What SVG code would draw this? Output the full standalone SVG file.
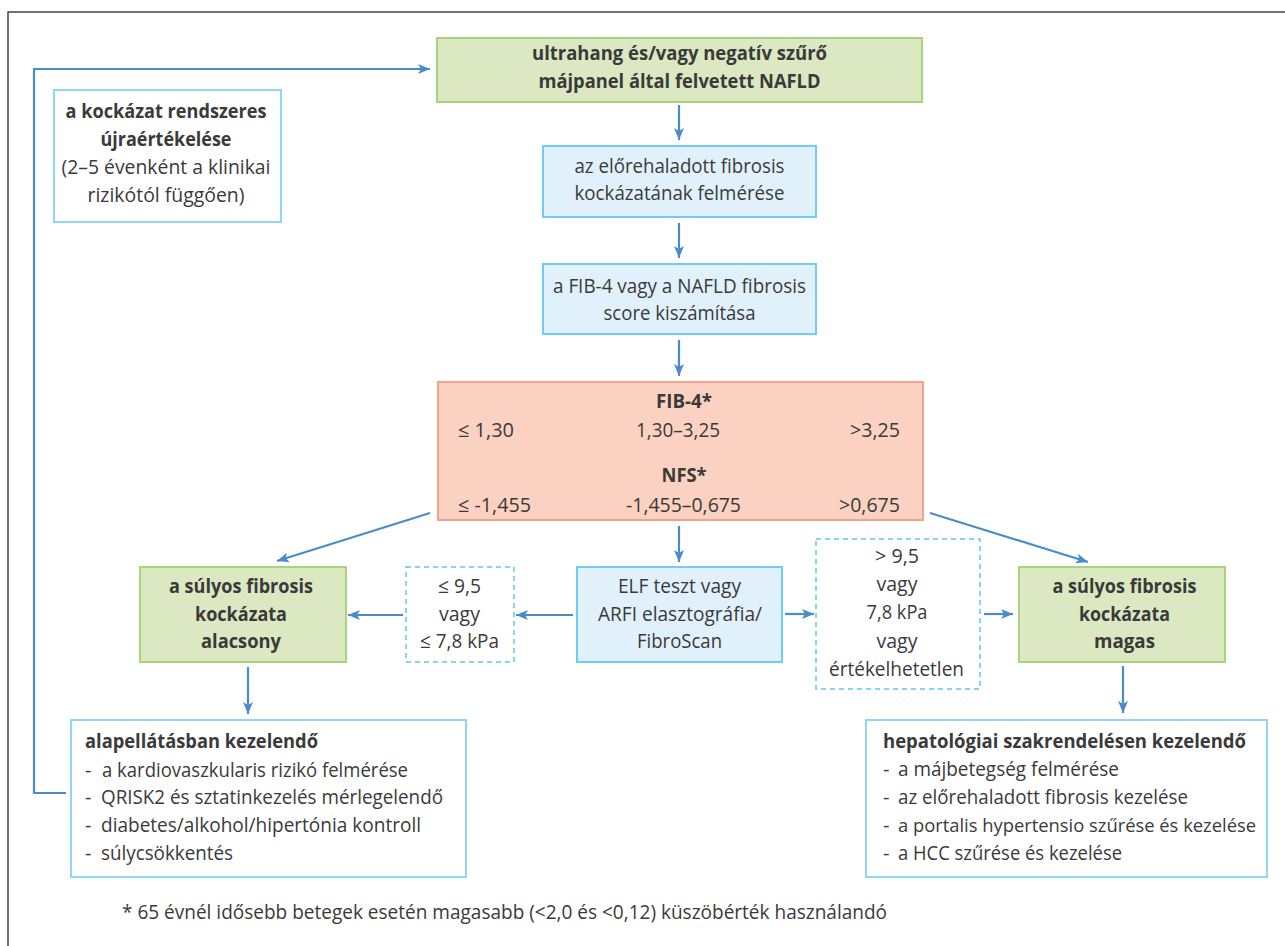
<svg xmlns="http://www.w3.org/2000/svg" width="1285" height="946" viewBox="0 0 1285 946">
<style>
text{font-family:"Open Sans","Noto Sans","Liberation Sans",sans-serif;font-size:20px;fill:#3a3a3a}
.b{font-weight:bold;font-size:19.5px}
.c{text-anchor:middle}
.e{text-anchor:end}
.green{fill:#dbe8c1;stroke:#a9d47e;stroke-width:2}
.blue{fill:#e1f1fb;stroke:#6fcdf3;stroke-width:2}
.white{fill:#ffffff;stroke:#8ed8f5;stroke-width:2}
.red{fill:#fbd1c1;stroke:#f3a38c;stroke-width:2}
.dash{fill:#ffffff;stroke:#5cc6ee;stroke-width:1.5;stroke-dasharray:5,4}
.conn{fill:none;stroke:#4a8bcb;stroke-width:2.2}
</style>
<defs>
<marker id="ah" viewBox="0 0 12 10" refX="12" refY="5" markerWidth="12" markerHeight="10" markerUnits="userSpaceOnUse" orient="auto">
<path d="M0,0 L12,5 L0,10 L3,5 Z" fill="#4a8bcb"/>
</marker>
</defs>
<rect width="1285" height="946" fill="#ffffff"/>
<path d="M8,946 V12 H1285" fill="none" stroke="#444" stroke-width="1.5"/>

<g id="connectors">
<path class="conn" d="M679,105 V140" marker-end="url(#ah)"/>
<path class="conn" d="M679,223 V258" marker-end="url(#ah)"/>
<path class="conn" d="M679,340 V376" marker-end="url(#ah)"/>
<path class="conn" d="M679,526 V562" marker-end="url(#ah)"/>
<path class="conn" d="M430,513 L277,561" marker-end="url(#ah)"/>
<path class="conn" d="M930,513 L1088,562" marker-end="url(#ah)"/>
<path class="conn" d="M573,615 H516" marker-end="url(#ah)"/>
<path class="conn" d="M403,615 H348" marker-end="url(#ah)"/>
<path class="conn" d="M785,614 H814" marker-end="url(#ah)"/>
<path class="conn" d="M984,614 H1013" marker-end="url(#ah)"/>
<path class="conn" d="M248,667 V714" marker-end="url(#ah)"/>
<path class="conn" d="M1123,666 V713" marker-end="url(#ah)"/>
<path class="conn" d="M66,793 H34 V69 H430" marker-end="url(#ah)"/>
</g>

<g id="n-start">
<rect class="green" x="437" y="38" width="485" height="64"/>
<text class="b c" x="679.5" y="60" textLength="295" lengthAdjust="spacingAndGlyphs">ultrahang és/vagy negatív szűrő</text>
<text class="b c" x="679.5" y="88" textLength="282" lengthAdjust="spacingAndGlyphs">májpanel által felvetett NAFLD</text>
</g>

<g id="n-assess">
<rect class="blue" x="543" y="146" width="273" height="71"/>
<text class="c" x="679.5" y="173" textLength="210" lengthAdjust="spacingAndGlyphs">az előrehaladott fibrosis</text>
<text class="c" x="679.5" y="200" textLength="210" lengthAdjust="spacingAndGlyphs">kockázatának felmérése</text>
</g>

<g id="n-calc">
<rect class="blue" x="543" y="264" width="273" height="70"/>
<text class="c" x="679.5" y="293" textLength="253" lengthAdjust="spacingAndGlyphs">a FIB-4 vagy a NAFLD fibrosis</text>
<text class="c" x="679.5" y="320" textLength="152" lengthAdjust="spacingAndGlyphs">score kiszámítása</text>
</g>

<g id="n-scores">
<rect class="red" x="438" y="382" width="485" height="138"/>
<text class="b c" x="684" y="408" textLength="56" lengthAdjust="spacingAndGlyphs">FIB-4*</text>
<text x="458" y="437" textLength="56" lengthAdjust="spacingAndGlyphs">≤ 1,30</text>
<text class="c" x="678" y="437" textLength="84" lengthAdjust="spacingAndGlyphs">1,30–3,25</text>
<text class="e" x="900" y="437" textLength="50" lengthAdjust="spacingAndGlyphs">&gt;3,25</text>
<text class="b c" x="684" y="482" textLength="45" lengthAdjust="spacingAndGlyphs">NFS*</text>
<text x="458" y="512" textLength="73" lengthAdjust="spacingAndGlyphs">≤ -1,455</text>
<text class="c" x="683.5" y="512" textLength="115" lengthAdjust="spacingAndGlyphs">-1,455–0,675</text>
<text class="e" x="900" y="512" textLength="61" lengthAdjust="spacingAndGlyphs">&gt;0,675</text>
</g>

<g id="n-elf">
<rect class="blue" x="577" y="567" width="205" height="95"/>
<text class="c" x="679.5" y="593" textLength="123" lengthAdjust="spacingAndGlyphs">ELF teszt vagy</text>
<text class="c" x="680" y="621" textLength="164" lengthAdjust="spacingAndGlyphs">ARFI elasztográfia/</text>
<text class="c" x="679.5" y="648" textLength="85" lengthAdjust="spacingAndGlyphs">FibroScan</text>
</g>

<g id="n-low-cond">
<rect class="dash" x="406" y="567" width="108" height="95"/>
<text class="c" x="459.5" y="593" textLength="43" lengthAdjust="spacingAndGlyphs">≤ 9,5</text>
<text class="c" x="459.5" y="621" textLength="41" lengthAdjust="spacingAndGlyphs">vagy</text>
<text class="c" x="459.5" y="648" textLength="79" lengthAdjust="spacingAndGlyphs">≤ 7,8 kPa</text>
</g>

<g id="n-high-cond">
<rect class="dash" x="816" y="539" width="164" height="150"/>
<text class="c" x="897" y="563" textLength="44" lengthAdjust="spacingAndGlyphs">&gt; 9,5</text>
<text class="c" x="897" y="591" textLength="41" lengthAdjust="spacingAndGlyphs">vagy</text>
<text class="c" x="897" y="619" textLength="61" lengthAdjust="spacingAndGlyphs">7,8 kPa</text>
<text class="c" x="897" y="648" textLength="41" lengthAdjust="spacingAndGlyphs">vagy</text>
<text class="c" x="896.5" y="676" textLength="135" lengthAdjust="spacingAndGlyphs">értékelhetetlen</text>
</g>

<g id="n-low">
<rect class="green" x="140" y="567" width="206" height="95"/>
<text class="b c" x="241" y="593" textLength="144" lengthAdjust="spacingAndGlyphs">a súlyos fibrosis</text>
<text class="b c" x="241" y="621" textLength="92" lengthAdjust="spacingAndGlyphs">kockázata</text>
<text class="b c" x="241" y="648" textLength="80" lengthAdjust="spacingAndGlyphs">alacsony</text>
</g>

<g id="n-high">
<rect class="green" x="1019" y="567" width="206" height="95"/>
<text class="b c" x="1124.5" y="593" textLength="144" lengthAdjust="spacingAndGlyphs">a súlyos fibrosis</text>
<text class="b c" x="1124.5" y="621" textLength="91" lengthAdjust="spacingAndGlyphs">kockázata</text>
<text class="b c" x="1124.5" y="648" textLength="61" lengthAdjust="spacingAndGlyphs">magas</text>
</g>

<g id="n-reassess">
<rect class="white" x="54" y="90" width="227" height="132"/>
<text class="b c" x="166" y="118" textLength="201" lengthAdjust="spacingAndGlyphs">a kockázat rendszeres</text>
<text class="b c" x="166" y="146" textLength="131" lengthAdjust="spacingAndGlyphs">újraértékelése</text>
<text class="c" x="166" y="174" textLength="209" lengthAdjust="spacingAndGlyphs">(2–5 évenként a klinikai</text>
<text class="c" x="166" y="202" textLength="157" lengthAdjust="spacingAndGlyphs">rizikótól függően)</text>
</g>

<g id="n-primary">
<rect class="white" x="71" y="720" width="395" height="157"/>
<text class="b" x="85" y="748" textLength="233" lengthAdjust="spacingAndGlyphs">alapellátásban kezelendő</text>
<text x="85" y="777">-</text><text x="102" y="777" textLength="306" lengthAdjust="spacingAndGlyphs">a kardiovaszkularis rizikó felmérése</text>
<text x="85" y="804">-</text><text x="101" y="804" textLength="342" lengthAdjust="spacingAndGlyphs">QRISK2 és sztatinkezelés mérlegelendő</text>
<text x="85" y="832">-</text><text x="101" y="832" textLength="320" lengthAdjust="spacingAndGlyphs">diabetes/alkohol/hipertónia kontroll</text>
<text x="85" y="860">-</text><text x="101" y="860" textLength="132" lengthAdjust="spacingAndGlyphs">súlycsökkentés</text>
</g>

<g id="n-hepat">
<rect class="white" x="866" y="720" width="401" height="157"/>
<text class="b" x="883" y="748" textLength="363" lengthAdjust="spacingAndGlyphs">hepatológiai szakrendelésen kezelendő</text>
<text x="883" y="776">-</text><text x="898" y="776" textLength="221" lengthAdjust="spacingAndGlyphs">a májbetegség felmérése</text>
<text x="883" y="804">-</text><text x="898" y="804" textLength="290" lengthAdjust="spacingAndGlyphs">az előrehaladott fibrosis kezelése</text>
<text x="883" y="832">-</text><text x="898" y="832" style="font-size:18.4px" textLength="358" lengthAdjust="spacingAndGlyphs">a portalis hypertensio szűrése és kezelése</text>
<text x="883" y="860">-</text><text x="898" y="860" textLength="224" lengthAdjust="spacingAndGlyphs">a HCC szűrése és kezelése</text>
</g>

<g id="footnote">
<text x="122" y="919" textLength="765" lengthAdjust="spacingAndGlyphs">* 65 évnél idősebb betegek esetén magasabb (&lt;2,0 és &lt;0,12) küszöbérték használandó</text>
</g>
</svg>
